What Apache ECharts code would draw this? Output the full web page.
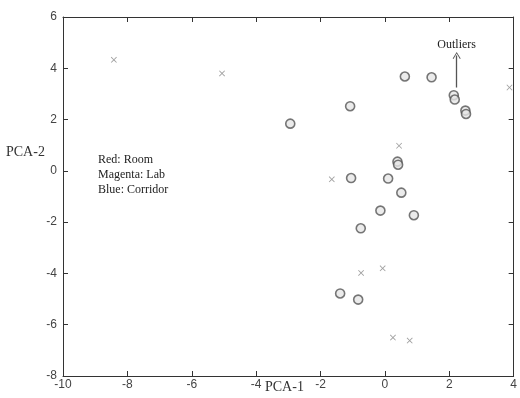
<!DOCTYPE html>
<html>
<head>
<meta charset="utf-8">
<script src="https://cdn.jsdelivr.net/npm/echarts@6/dist/echarts.min.js"></script>
<style>
  html, body { margin: 0; padding: 0; background: #fff; }
  #chart { width: 520px; height: 398px; }
</style>
</head>
<body>
<div id="chart"></div>
<script>
// 数据点 (PCA-1, PCA-2)
const crossPoints = [
  [-8.42, 4.33], [-5.06, 3.8], [3.87, 3.25], [0.44, 0.98], [-1.65, -0.33],
  [-0.74, -3.98], [-0.07, -3.8], [0.25, -6.5], [0.77, -6.62]
]
const circlePoints = [
  [0.62, 3.68], [1.45, 3.65], [2.14, 2.95], [2.17, 2.78], [2.5, 2.35], [2.52, 2.22],
  [-1.08, 2.52], [-2.94, 1.84], [0.39, 0.36], [0.41, 0.24], [-1.05, -0.28],
  [0.1, -0.3], [0.51, -0.85], [-0.14, -1.55], [0.9, -1.73], [-0.75, -2.24],
  [-1.39, -4.78], [-0.83, -5.02]
]
const legendLines = ['Red: Room', 'Magenta: Lab', 'Blue: Corridor']
const arrowFrom = [2.23, 3.25]
const arrowTo = [2.23, 4.5]
const outlierLabelAt = [2.23, 4.92]

const chart = echarts.init(document.getElementById('chart'))

const serif = '"Liberation Serif", "DejaVu Serif", serif'
const sans = '"Liberation Sans", Arial, sans-serif'

const tickStyle = { show: true, inside: true, length: 5, lineStyle: { color: '#333' } }
const lineStyle = { show: true, onZero: false, lineStyle: { color: '#333', width: 1 } }

chart.setOption({
  animation: false,
  grid: { left: 63, right: 1, top: 17, bottom: 22 },
  xAxis: [
    {
      type: 'value', min: -10, max: 4, interval: 2,
      axisLine: lineStyle, axisTick: tickStyle, splitLine: { show: false },
      axisLabel: { color: '#444', fontFamily: sans, fontSize: 12, margin: 3 }
    },
    {
      type: 'value', position: 'top', min: -10, max: 4, interval: 2,
      axisLine: lineStyle, axisTick: tickStyle, splitLine: { show: false },
      axisLabel: { show: false }
    }
  ],
  yAxis: [
    {
      type: 'value', min: -8, max: 6, interval: 2,
      axisLine: lineStyle, axisTick: tickStyle, splitLine: { show: false },
      axisLabel: { color: '#444', fontFamily: sans, fontSize: 12, margin: 6 }
    },
    {
      type: 'value', position: 'right', min: -8, max: 6, interval: 2,
      axisLine: lineStyle, axisTick: tickStyle, splitLine: { show: false },
      axisLabel: { show: false }
    }
  ],
  series: [
    {
      name: 'cross',
      type: 'scatter',
      symbol: 'path://M0,1L1,0L5,4L9,0L10,1L6,5L10,9L9,10L5,6L1,10L0,9L4,5Z',
      symbolSize: 6,
      itemStyle: { color: '#888' },
      data: crossPoints
    },
    {
      name: 'circle',
      type: 'scatter',
      symbol: 'circle',
      symbolSize: 9,
      itemStyle: { color: '#e6e6e6', borderColor: '#555', borderWidth: 1.6 },
      data: circlePoints
    },
    {
      // Outliers 箭头
      type: 'scatter',
      data: [],
      markLine: {
        silent: true,
        symbol: ['none', 'path://M0,10L5,0L10,10L9,10.6L5,2.4L1,10.6Z'],
        symbolSize: [8, 7],
        lineStyle: { color: '#555', width: 1.3, type: 'solid' },
        label: { show: false },
        data: [[{ coord: arrowFrom }, { coord: arrowTo }]]
      },
      markPoint: {
        silent: true,
        symbol: 'rect',
        symbolSize: 1,
        itemStyle: { color: 'rgba(0,0,0,0)' },
        label: {
          show: true, position: 'inside', color: '#222',
          fontFamily: serif, fontSize: 12, formatter: 'Outliers'
        },
        data: [{ coord: outlierLabelAt }]
      }
    }
  ],
  graphic: [
    {
      type: 'text', left: 6, top: 145,
      style: { text: 'PCA-2', fill: '#333', font: '14px ' + serif }
    },
    {
      type: 'text', left: 265, top: 380,
      style: { text: 'PCA-1', fill: '#333', font: '14px ' + serif }
    },
    {
      type: 'text', left: 98, top: 152,
      style: { text: legendLines.join('\n'), fill: '#222', font: '12px ' + serif, lineHeight: 15 }
    }
  ]
})
</script>
</body>
</html>
